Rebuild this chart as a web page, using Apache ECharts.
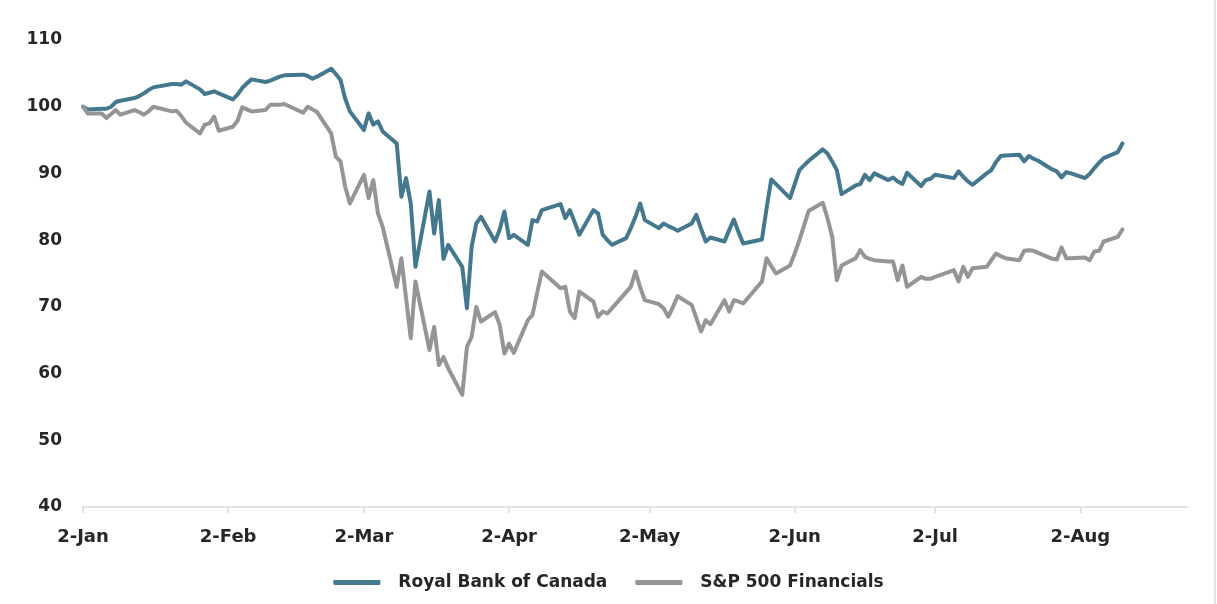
<!DOCTYPE html>
<html><head><meta charset="utf-8">
<script src="https://cdn.jsdelivr.net/npm/echarts@6/dist/echarts.min.js"></script>
<style>html,body{margin:0;padding:0;background:#fff}#c{width:1217px;height:604px}</style>
</head><body><div id="c"></div>
<script>
const seriesNames = ['Royal Bank of Canada', 'S&P 500 Financials'];

const dates = [
 '2020-01-02','2020-01-03','2020-01-06','2020-01-07','2020-01-08','2020-01-09','2020-01-10','2020-01-13','2020-01-14','2020-01-15','2020-01-16','2020-01-17','2020-01-21','2020-01-22','2020-01-23','2020-01-24','2020-01-27','2020-01-28','2020-01-29','2020-01-30','2020-01-31',
 '2020-02-03','2020-02-04','2020-02-05','2020-02-06','2020-02-07','2020-02-10','2020-02-11','2020-02-12','2020-02-13','2020-02-14','2020-02-18','2020-02-19','2020-02-20','2020-02-21','2020-02-24','2020-02-25','2020-02-26','2020-02-27','2020-02-28',
 '2020-03-02','2020-03-03','2020-03-04','2020-03-05','2020-03-06','2020-03-09','2020-03-10','2020-03-11','2020-03-12','2020-03-13','2020-03-16','2020-03-17','2020-03-18','2020-03-19','2020-03-20','2020-03-23','2020-03-24','2020-03-25','2020-03-26','2020-03-27','2020-03-30','2020-03-31',
 '2020-04-01','2020-04-02','2020-04-03','2020-04-06','2020-04-07','2020-04-08','2020-04-09','2020-04-13','2020-04-14','2020-04-15','2020-04-16','2020-04-17','2020-04-20','2020-04-21','2020-04-22','2020-04-23','2020-04-24','2020-04-27','2020-04-28','2020-04-29','2020-04-30',
 '2020-05-01','2020-05-04','2020-05-05','2020-05-06','2020-05-07','2020-05-08','2020-05-11','2020-05-12','2020-05-13','2020-05-14','2020-05-15','2020-05-18','2020-05-19','2020-05-20','2020-05-21','2020-05-22','2020-05-26','2020-05-27','2020-05-28','2020-05-29',
 '2020-06-01','2020-06-02','2020-06-03','2020-06-04','2020-06-05','2020-06-08','2020-06-09','2020-06-10','2020-06-11','2020-06-12','2020-06-15','2020-06-16','2020-06-17','2020-06-18','2020-06-19','2020-06-22','2020-06-23','2020-06-24','2020-06-25','2020-06-26','2020-06-29','2020-06-30',
 '2020-07-01','2020-07-02','2020-07-06','2020-07-07','2020-07-08','2020-07-09','2020-07-10','2020-07-13','2020-07-14','2020-07-15','2020-07-16','2020-07-17','2020-07-20','2020-07-21','2020-07-22','2020-07-23','2020-07-24','2020-07-27','2020-07-28','2020-07-29','2020-07-30','2020-07-31',
 '2020-08-03','2020-08-04','2020-08-05','2020-08-06','2020-08-07','2020-08-10','2020-08-11'
];

const rbc = [
 100.0, 99.6, 99.7, 99.7, 100.0, 100.7, 100.9, 101.3, 101.6, 102.0, 102.5, 102.9, 103.4, 103.4, 103.3, 103.8, 102.6, 101.9, 102.1, 102.3, 102.0,
 101.1, 101.8, 102.8, 103.5, 104.1, 103.7, 103.9, 104.2, 104.5, 104.7, 104.8, 104.6, 104.2, 104.5, 105.7, 104.9, 104.0, 101.2, 99.3,
 96.5, 99.0, 97.3, 97.8, 96.3, 94.5, 86.5, 89.3, 85.5, 76.0, 87.3, 81.0, 86.0, 77.2, 79.3, 76.0, 69.8, 79.0, 82.5, 83.5, 79.8, 81.6,
 84.3, 80.3, 80.8, 79.3, 83.0, 82.8, 84.5, 85.4, 83.3, 84.5, 82.7, 80.8, 84.5, 84.0, 80.8, 80.0, 79.3, 80.3, 81.8, 83.5, 85.5,
 83.0, 81.8, 82.5, 82.1, 81.8, 81.4, 82.5, 83.8, 81.7, 79.8, 80.4, 79.8, 81.5, 83.1, 81.2, 79.5, 80.1, 84.8, 89.1, 88.4,
 86.3, 88.4, 90.5, 91.2, 91.9, 93.6, 93.0, 91.8, 90.5, 86.9, 88.2, 88.4, 89.8, 89.0, 90.0, 89.0, 89.4, 88.8, 88.4, 90.1, 88.1, 89.0,
 89.2, 89.8, 89.3, 90.3, 89.5, 88.8, 88.3, 90.0, 90.5, 91.7, 92.6, 92.7, 92.8, 91.8, 92.6, 92.2, 91.9, 90.6, 90.3, 89.4, 90.2, 90.0,
 89.3, 89.9, 90.8, 91.6, 92.3, 93.2, 94.5
];

const spf = [
 100.0, 99.0, 99.0, 98.3, 98.9, 99.5, 98.8, 99.5, 99.2, 98.8, 99.3, 100.0, 99.3, 99.4, 98.6, 97.6, 96.0, 97.3, 97.5, 98.5, 96.4,
 97.0, 97.9, 99.9, 99.6, 99.3, 99.5, 100.3, 100.3, 100.3, 100.4, 99.1, 100.0, 99.6, 99.2, 96.0, 92.5, 91.8, 88.0, 85.5,
 89.8, 86.3, 89.0, 84.0, 82.0, 73.0, 77.3, 71.3, 65.3, 73.8, 63.5, 67.0, 61.3, 62.5, 60.8, 56.8, 64.0, 65.5, 70.0, 67.8, 69.2, 67.3,
 63.0, 64.5, 63.1, 68.0, 68.8, 72.1, 75.3, 72.8, 73.0, 69.3, 68.3, 72.3, 70.8, 68.5, 69.3, 69.0, 69.8, 72.2, 73.0, 75.3, 72.9,
 71.0, 70.4, 69.8, 68.5, 70.0, 71.6, 70.3, 68.3, 66.3, 68.0, 67.4, 71.0, 69.3, 71.0, 70.8, 70.5, 73.8, 77.3, 76.1, 75.0,
 76.2, 78.0, 80.0, 82.2, 84.4, 85.6, 83.3, 80.5, 74.0, 76.2, 77.3, 78.5, 77.5, 77.2, 77.0, 76.8, 76.8, 74.0, 76.2, 73.0, 74.5, 74.2,
 74.2, 74.5, 75.5, 73.8, 76.0, 74.5, 75.8, 76.0, 77.0, 78.0, 77.6, 77.3, 77.0, 78.4, 78.5, 78.4, 78.1, 77.2, 77.1, 78.9, 77.3, 77.3,
 77.4, 77.0, 78.3, 78.4, 79.8, 80.5, 81.6
];

const tickDates = ['2020-01-02','2020-02-02','2020-03-02','2020-04-02','2020-05-02','2020-06-02','2020-07-02','2020-08-02'];
const tickLabels = ['2-Jan','2-Feb','2-Mar','2-Apr','2-May','2-Jun','2-Jul','2-Aug'];
const axisEndDate = '2020-08-25';

const DAY = 86400000;
const t0 = Date.parse(dates[0] + 'T00:00:00Z');
const dayIndex = s => Math.round((Date.parse(s + 'T00:00:00Z') - t0) / DAY);
const tickDays = tickDates.map(dayIndex);

const FONT = '"DejaVu Sans", sans-serif';
const TXT = '#262626';

const chart = echarts.init(document.getElementById('c'), null, {renderer: 'canvas'});
chart.setOption({
  animation: false,
  backgroundColor: '#ffffff',
  grid: {left: 83, right: 29, top: 40, bottom: 97, containLabel: false, outerBoundsMode: 'none'},
  legend: {
    data: seriesNames,
    left: 'center',
    top: 569,
    icon: 'roundRect',
    itemWidth: 47,
    itemHeight: 5,
    itemGap: 28,
    textStyle: {fontFamily: FONT, fontWeight: 'bold', fontSize: 17, color: TXT, padding: [0, 0, 0, 13]}
  },
  xAxis: {
    type: 'value',
    min: 0,
    max: dayIndex(axisEndDate),
    axisLine: {show: true, lineStyle: {color: '#d9d9d9', width: 1.5}},
    axisTick: {show: true, customValues: tickDays, length: 6, lineStyle: {color: '#d9d9d9', width: 1.5}},
    axisLabel: {
      customValues: tickDays,
      formatter: v => tickLabels[tickDays.indexOf(v)] || '',
      fontFamily: FONT, fontWeight: 'bold', fontSize: 18, color: TXT, margin: 21
    },
    splitLine: {show: false}
  },
  yAxis: {
    type: 'value',
    min: 40, max: 110, interval: 10,
    axisLine: {show: false},
    axisTick: {show: false},
    splitLine: {show: false},
    axisLabel: {fontFamily: FONT, fontWeight: 'bold', fontSize: 17, color: TXT, margin: 21}
  },
  graphic: [{
    type: 'line', shape: {x1: 1215, y1: 0, x2: 1215, y2: 604},
    style: {stroke: '#d9d9d9', lineWidth: 1.5}, silent: true
  }],
  series: [
    {
      name: seriesNames[0], type: 'line', showSymbol: false, symbol: 'none',
      data: dates.map((d, i) => [dayIndex(d), rbc[i]]),
      itemStyle: {color: '#43788f'},
      lineStyle: {color: '#43788f', width: 4, join: 'round', cap: 'round'}
    },
    {
      name: seriesNames[1], type: 'line', showSymbol: false, symbol: 'none',
      data: dates.map((d, i) => [dayIndex(d), spf[i]]),
      itemStyle: {color: '#939598'},
      lineStyle: {color: '#939598', width: 4, join: 'round', cap: 'round'}
    }
  ]
});
</script>
</body></html>
